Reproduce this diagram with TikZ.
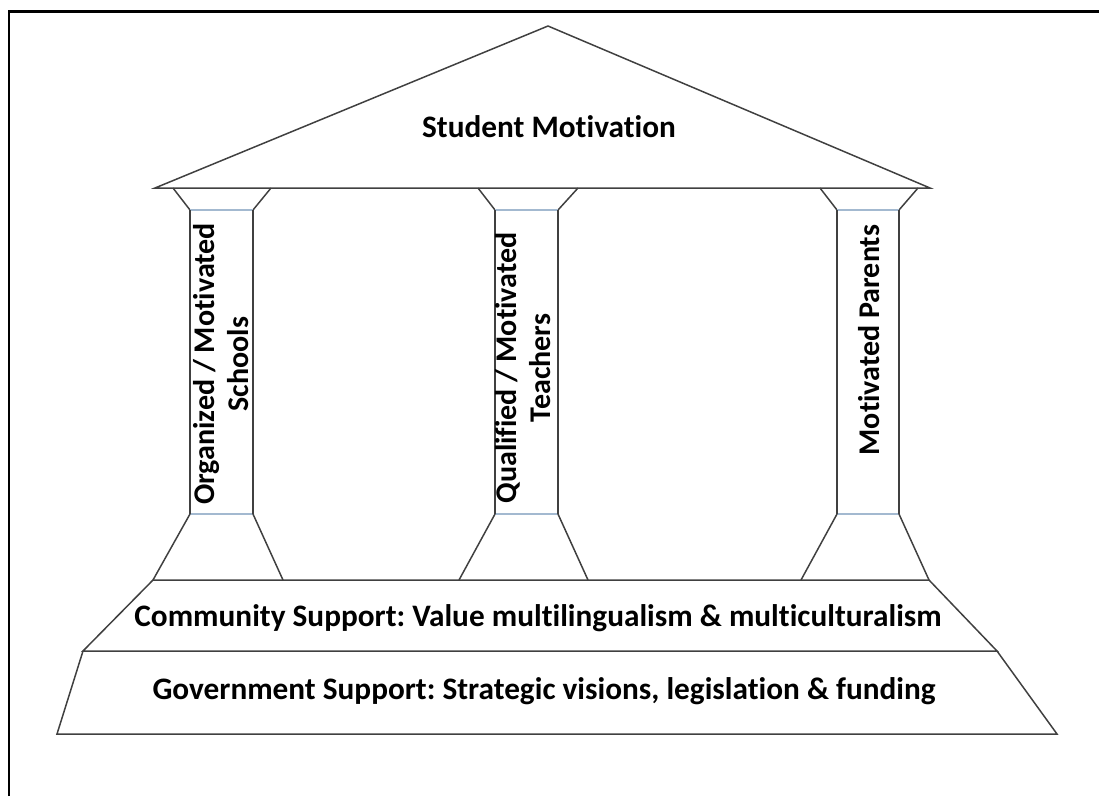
\documentclass[tikz,border=0pt]{standalone}
\usepackage{fontspec}
\setmainfont{Carlito}[Ligatures=NoCommon]
\definecolor{edgegray}{HTML}{404040}
\definecolor{capblue}{HTML}{A3B9D0}
\tikzset{
  outline/.style={draw=edgegray,line width=0.85pt,line join=miter},
  captxt/.style={font=\bfseries\fontsize{17.8}{19.4}\selectfont,text=black},
  pillartxt/.style={captxt,font=\bfseries\fontsize{17.1}{19.4}\selectfont,rotate=90,align=center},
}
\begin{document}
\begin{tikzpicture}[x=0.02cm,y=-0.02cm]
\useasboundingbox (0,0) rectangle (1099,796);
% frame
\draw[line width=1.7pt] (9,796) -- (9,11) -- (1099,11);
% roof
\draw[outline] (155,188) -- (548,26) -- (930,188) -- cycle;
\node[captxt,anchor=base] (roof) at (549,137) {Student Motivation};
% pillars: capital left/right, shaft left/right, foot left/right
\foreach \cl/\cr/\sl/\sr/\bl/\br in {173/271/190/253/153/283, 478/578/495/558/459/588, 820/918/837/899/801/929}{
  \draw[outline] (\cl,188) -- (\sl,210) (\sr,210) -- (\cr,188);
  \draw[draw=capblue,line width=0.85pt] (\sl,210) -- (\sr,210) (\sl,514) -- (\sr,514);
  \draw[outline] (\sl,210) -- (\sl,514) (\sr,210) -- (\sr,514);
  \draw[outline] (\sl,514) -- (\bl,580) (\sr,514) -- (\br,580);
}
\node[pillartxt] (schools) at (221,364) {Organized / Motivated\\Schools};
\node[pillartxt] (teachers) at (523,368) {Qualified / Motivated\\Teachers};
\node[pillartxt] (parents) at (869,340) {Motivated Parents};
% steps
\draw[outline] (153,580) -- (929,580) -- (997,651) -- (83,651) -- cycle;
\draw[outline] (83,651) -- (57,734) -- (1057,734) -- (997,651);
\node[captxt,anchor=base] (community) at (538,626) {Community Support:\ Value multilingualism \& multiculturalism};
\node[captxt,anchor=base] (government) at (544,699) {Government Support:\ Strategic visions, legislation \& funding};
\end{tikzpicture}
\end{document}
